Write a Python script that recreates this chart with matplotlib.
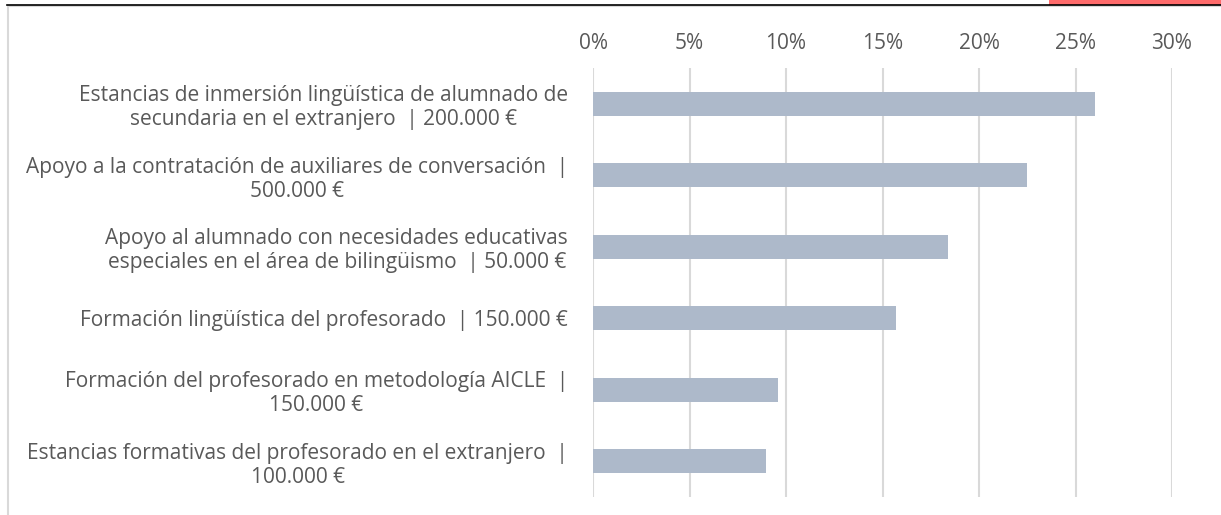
import matplotlib.pyplot as plt
from matplotlib.patches import Rectangle
from matplotlib.lines import Line2D
from matplotlib.ticker import FuncFormatter

categorias = [
    "Estancias de inmersión lingüística de alumnado de\nsecundaria en el extranjero  | 200.000 €",
    "Apoyo a la contratación de auxiliares de conversación  |\n500.000 €",
    "Apoyo al alumnado con necesidades educativas\nespeciales en el área de bilingüismo  | 50.000 €",
    "Formación lingüística del profesorado  | 150.000 €",
    "Formación del profesorado en metodología AICLE  |\n150.000 €",
    "Estancias formativas del profesorado en el extranjero  |\n100.000 €",
]
porcentajes = [26.0, 22.5, 18.4, 15.7, 9.6, 8.95]
ticks = [0, 5, 10, 15, 20, 25, 30]

W, H = 1221, 515
fig = plt.figure(figsize=(W / 100, H / 100), dpi=100)
plt.rcParams['font.family'] = ['Open Sans', 'DejaVu Sans']

# marco del gráfico y línea superior
fig.patches.append(Rectangle((8 / W, -0.1), 1.2, (H - 6) / H + 0.1, transform=fig.transFigure,
                             facecolor='none', edgecolor='#d9d9d9', linewidth=1.5, zorder=-10))
fig.lines.append(Line2D([7 / W, 1], [1 - 5 / H] * 2, transform=fig.transFigure, color='black', lw=1.2))
fig.patches.append(Rectangle((1049 / W, 1 - 4.5 / H), 1, 0.02, transform=fig.transFigure,
                             facecolor='#ff6b6b', edgecolor='none'))

ax = fig.add_axes([593 / W, (H - 497) / H, (1172 - 593) / W, (497 - 68) / H])
ax.set_facecolor('none')
pos = list(range(len(categorias)))
ax.barh(pos, porcentajes, height=0.34, color='#adb9ca', zorder=3)
ax.set_xlim(0, 30)
ax.set_ylim(len(categorias) - 0.5, -0.5)
ax.set_xticks(ticks)
ax.xaxis.set_major_formatter(FuncFormatter(lambda v, p: f"{v:.0f}%"))
ax.xaxis.tick_top()
ax.grid(axis='x', color='#d9d9d9', linewidth=1.5, zorder=0)
ax.set_yticks(pos)
ax.set_yticklabels(categorias)
for s in ax.spines.values():
    s.set_visible(False)
ax.tick_params(axis='x', length=0, pad=10, labelsize=15, colors='#595959')
ax.tick_params(axis='y', length=0, pad=18, labelsize=15, colors='#595959')
for lab in ax.get_yticklabels():
    lab.set_multialignment('center')
    lab.set_linespacing(1.2)

fig.savefig('out.png', dpi=100)
